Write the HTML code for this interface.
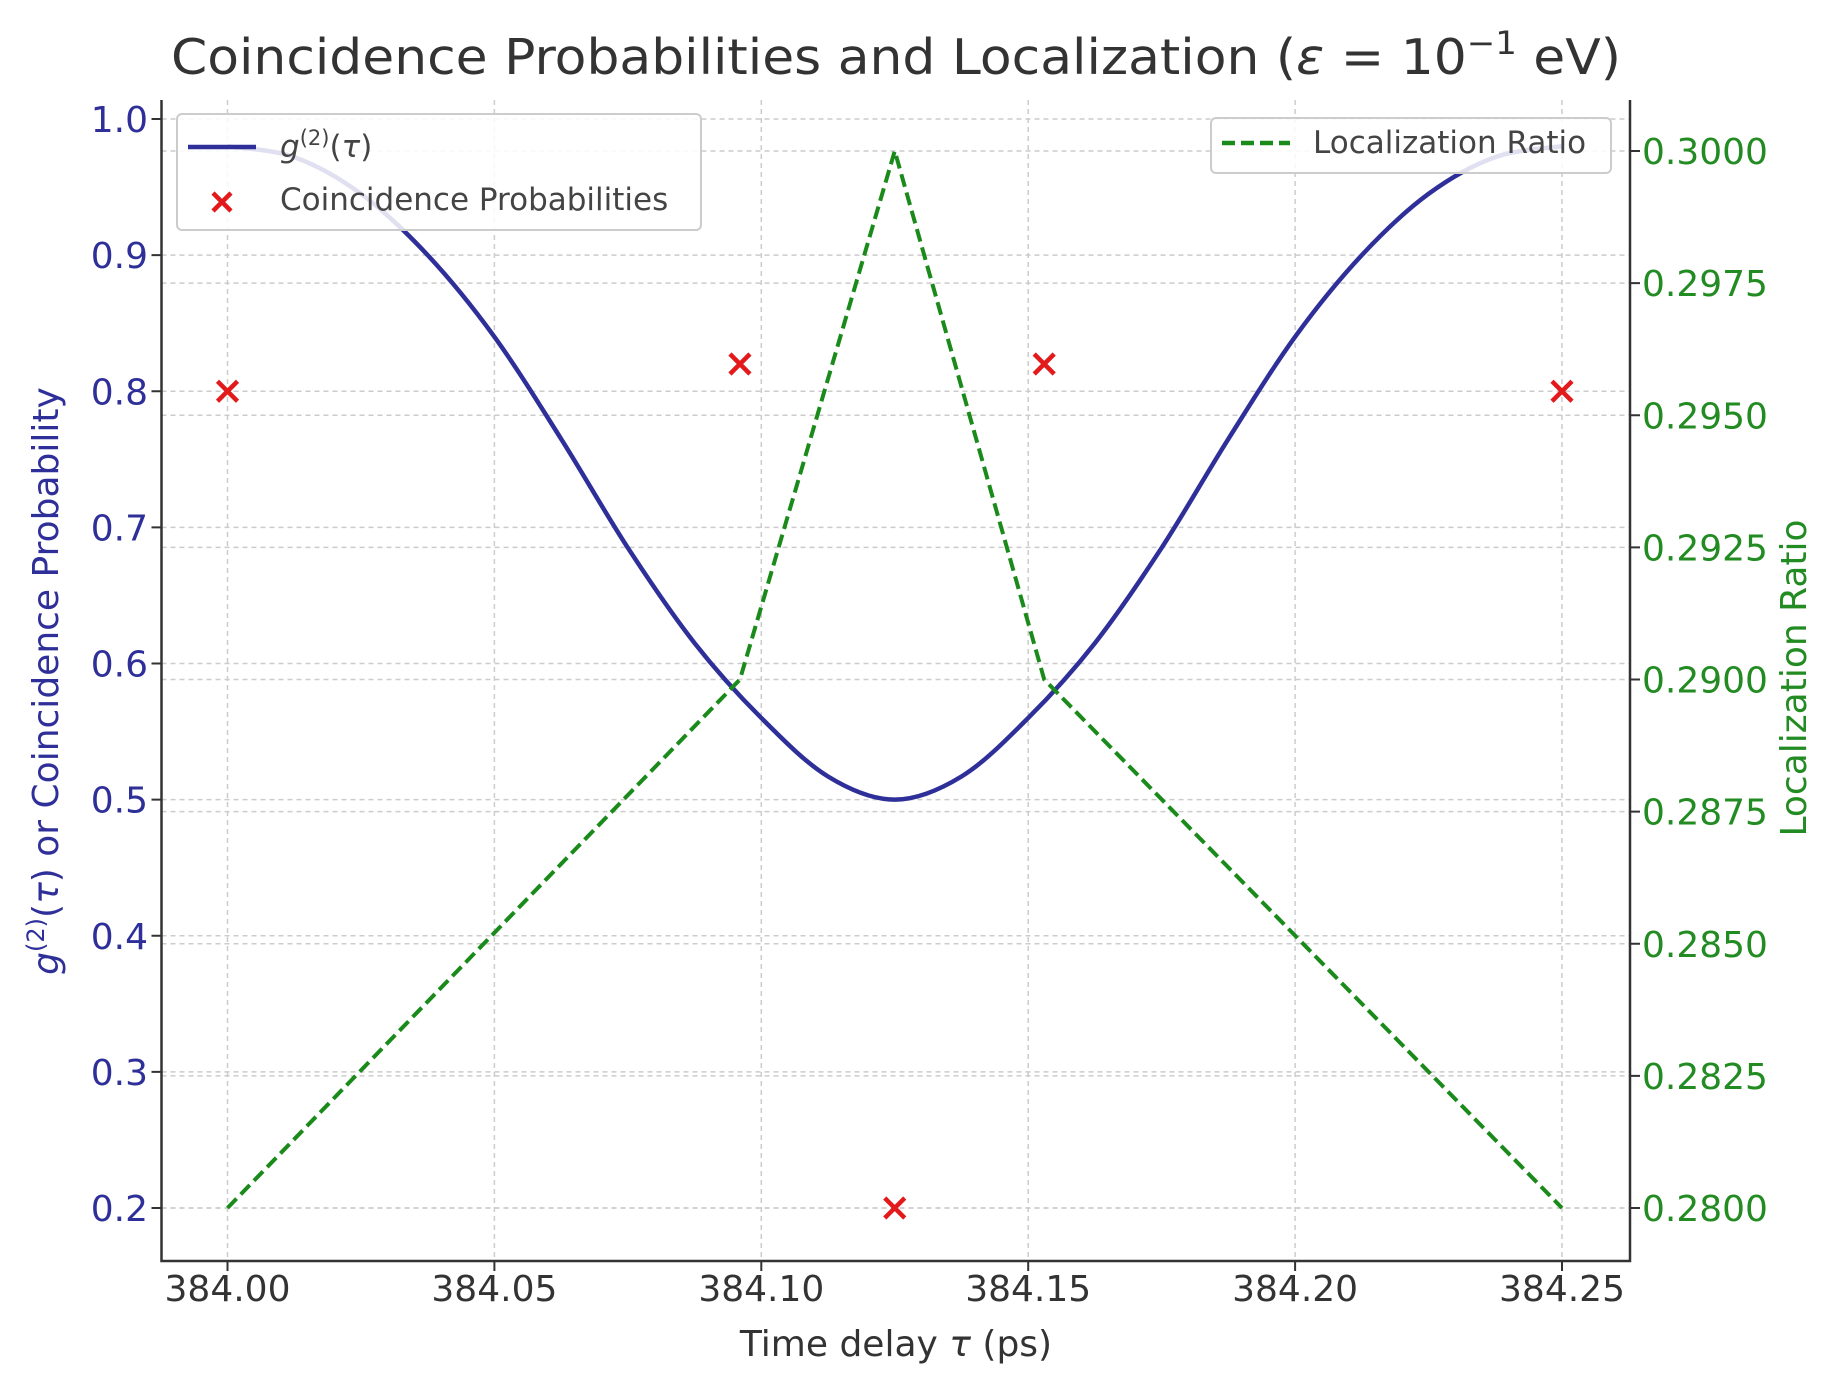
<!DOCTYPE html>
<html><head><meta charset="utf-8"><style>
body{margin:0;background:#fff}
svg{display:block;font-family:"DejaVu Sans","Liberation Sans",sans-serif}
</style></head><body>
<svg id="chart" width="1839" height="1379" viewBox="0 0 1839 1379">
<rect width="1839" height="1379" fill="#fff"/>
<text x="896" y="74" font-size="49" text-anchor="middle" fill="#333" textLength="1450" lengthAdjust="spacingAndGlyphs">Coincidence Probabilities and Localization (<tspan font-style="italic">ε</tspan> = 10<tspan dy="-20" font-size="32">−1</tspan><tspan dy="20"> eV)</tspan></text>
<g id="grid"></g>
<g id="series"></g>
<g id="axes"></g>
<text transform="translate(58,681) rotate(-90)" font-size="36" text-anchor="middle" fill="#2f2f99"><tspan font-style="italic">g</tspan><tspan dy="-14" font-size="24">(2)</tspan><tspan dy="14">(</tspan><tspan font-style="italic">τ</tspan>) or Coincidence Probability</text>
<text transform="translate(1806,678) rotate(-90)" font-size="36" text-anchor="middle" fill="#228b22">Localization Ratio</text>
<text x="896" y="1356" font-size="36" text-anchor="middle" fill="#333">Time delay <tspan font-style="italic">τ</tspan> (ps)</text>
<g>
<rect x="177" y="114" width="524" height="116" rx="5" fill="#fff" fill-opacity="0.85" stroke="#ccc" stroke-width="2"/>
<line x1="188" y1="147" x2="256" y2="147" stroke="#2f2f99" stroke-width="4.5"/>
<text x="280" y="157" font-size="31" fill="#444"><tspan font-style="italic">g</tspan><tspan dy="-12" font-size="21">(2)</tspan><tspan dy="12">(</tspan><tspan font-style="italic">τ</tspan>)</text>
<path d="M213 193 l18 18 M231 193 l-18 18" stroke="#e31a1c" stroke-width="4.5"/>
<text x="280" y="210" font-size="31" fill="#444">Coincidence Probabilities</text>
</g>
<g>
<rect x="1211" y="118" width="400" height="55" rx="5" fill="#fff" fill-opacity="0.85" stroke="#ccc" stroke-width="2"/>
<line x1="1222" y1="143" x2="1290" y2="143" stroke="#1a8a1a" stroke-width="4.5" stroke-dasharray="13,6"/>
<text x="1313" y="153" font-size="31" fill="#444">Localization Ratio</text>
</g>
</svg>
<script>
const tauValues=[384.0,384.0125,384.025,384.0375,384.05,384.0625,384.075,384.0875,384.1,384.1125,384.125,384.1375,384.15,384.1625,384.175,384.1875,384.2,384.2125,384.225,384.2375,384.25];
const g2Values=[0.98,0.972,0.945,0.9,0.84,0.765,0.685,0.615,0.56,0.517,0.50,0.517,0.56,0.615,0.685,0.765,0.84,0.9,0.945,0.972,0.98];
const coincTau=[384.0,384.096,384.125,384.153,384.25];
const coincValues=[0.80,0.82,0.20,0.82,0.80];
const locTau=[384.0,384.096,384.125,384.153,384.25];
const locValues=[0.28,0.29,0.30,0.29,0.28];
const xTicks=[384.0,384.05,384.1,384.15,384.2,384.25];
const xTickLabels=["384.00","384.05","384.10","384.15","384.20","384.25"];
const leftTicks=[0.2,0.3,0.4,0.5,0.6,0.7,0.8,0.9,1.0];
const leftTickLabels=["0.2","0.3","0.4","0.5","0.6","0.7","0.8","0.9","1.0"];
const rightTicks=[0.28,0.2825,0.285,0.2875,0.29,0.2925,0.295,0.2975,0.30];
const rightTickLabels=["0.2800","0.2825","0.2850","0.2875","0.2900","0.2925","0.2950","0.2975","0.3000"];

const NS="http://www.w3.org/2000/svg";
const L=161.5,R=1630,T=100,B=1261;
const X=v=>227.5+(v-384)/0.25*(1562-227.5);
const YL=v=>1208+(v-0.2)/0.8*(119-1208);
const YR=v=>1208+(v-0.28)/0.02*(151-1208);
function mk(tag,attrs,parent){const e=document.createElementNS(NS,tag);for(const k in attrs)e.setAttribute(k,attrs[k]);parent.appendChild(e);return e;}
const grid=document.getElementById('grid'),ser=document.getElementById('series'),ax=document.getElementById('axes');
xTicks.forEach((t,i)=>{
 const g=mk('line',{x1:X(t),x2:X(t),y1:T,y2:B,stroke:'#ccc','stroke-width':1.5,'stroke-dasharray':'5,4'},grid);
 
 
 const tk=mk('line',{x1:X(t),x2:X(t),y1:B,y2:B+10,stroke:'#333','stroke-width':2},ax);
 
 
 const tx=mk('text',{x:X(t),y:1301,'font-size':36,'text-anchor':'middle',fill:'#333'},ax);
 tx.textContent=xTickLabels[i];
 
 
});
leftTicks.forEach((t,i)=>{
 const g=mk('line',{x1:L,x2:R,y1:YL(t),y2:YL(t),stroke:'#ccc','stroke-width':1.5,'stroke-dasharray':'5,4'},grid);
 
 
 const tk=mk('line',{x1:L-10,x2:L,y1:YL(t),y2:YL(t),stroke:'#333','stroke-width':2},ax);
 
 
 const tx=mk('text',{x:148,y:YL(t)+13,'font-size':36,'text-anchor':'end',fill:'#2f2f99'},ax);
 tx.textContent=leftTickLabels[i];
 
 
});
rightTicks.forEach((t,i)=>{
 const g=mk('line',{x1:L,x2:R,y1:YR(t),y2:YR(t),stroke:'#ccc','stroke-width':1.5,'stroke-dasharray':'5,4'},grid);
 
 
 const tk=mk('line',{x1:R,x2:R+10,y1:YR(t),y2:YR(t),stroke:'#333','stroke-width':2},ax);
 
 
 const tx=mk('text',{x:1642,y:YR(t)+13,'font-size':36,fill:'#228b22'},ax);
 tx.textContent=rightTickLabels[i];
 
 
});
const axl=mk('path',{d:`M${L} ${T} V${B} H${R} V${T}`,fill:'none',stroke:'#333','stroke-width':2.5},ax);


const pts=tauValues.map((t,i)=>[X(t),YL(g2Values[i])]);
let d=`M${pts[0][0]} ${pts[0][1]}`;
for(let i=0;i<pts.length-1;i++){const p0=pts[Math.max(i-1,0)],p1=pts[i],p2=pts[i+1],p3=pts[Math.min(i+2,pts.length-1)];
 d+=` C${p1[0]+(p2[0]-p0[0])/6} ${p1[1]+(p2[1]-p0[1])/6} ${p2[0]-(p3[0]-p1[0])/6} ${p2[1]-(p3[1]-p1[1])/6} ${p2[0]} ${p2[1]}`;}
const gl=mk('path',{d:d,fill:'none',stroke:'#2f2f99','stroke-width':4.5},ser);


const ll=mk('polyline',{points:locTau.map((t,i)=>X(t)+','+YR(locValues[i])).join(' '),fill:'none',stroke:'#1a8a1a','stroke-width':4,'stroke-dasharray':'13,6'},ser);


coincTau.forEach((t,i)=>{const x=X(t),y=YL(coincValues[i]);
 const m=mk('path',{d:`M${x-10} ${y-10} L${x+10} ${y+10} M${x+10} ${y-10} L${x-10} ${y+10}`,stroke:'#e31a1c','stroke-width':4.5},ser);
 
 
});
</script>
</body></html>
